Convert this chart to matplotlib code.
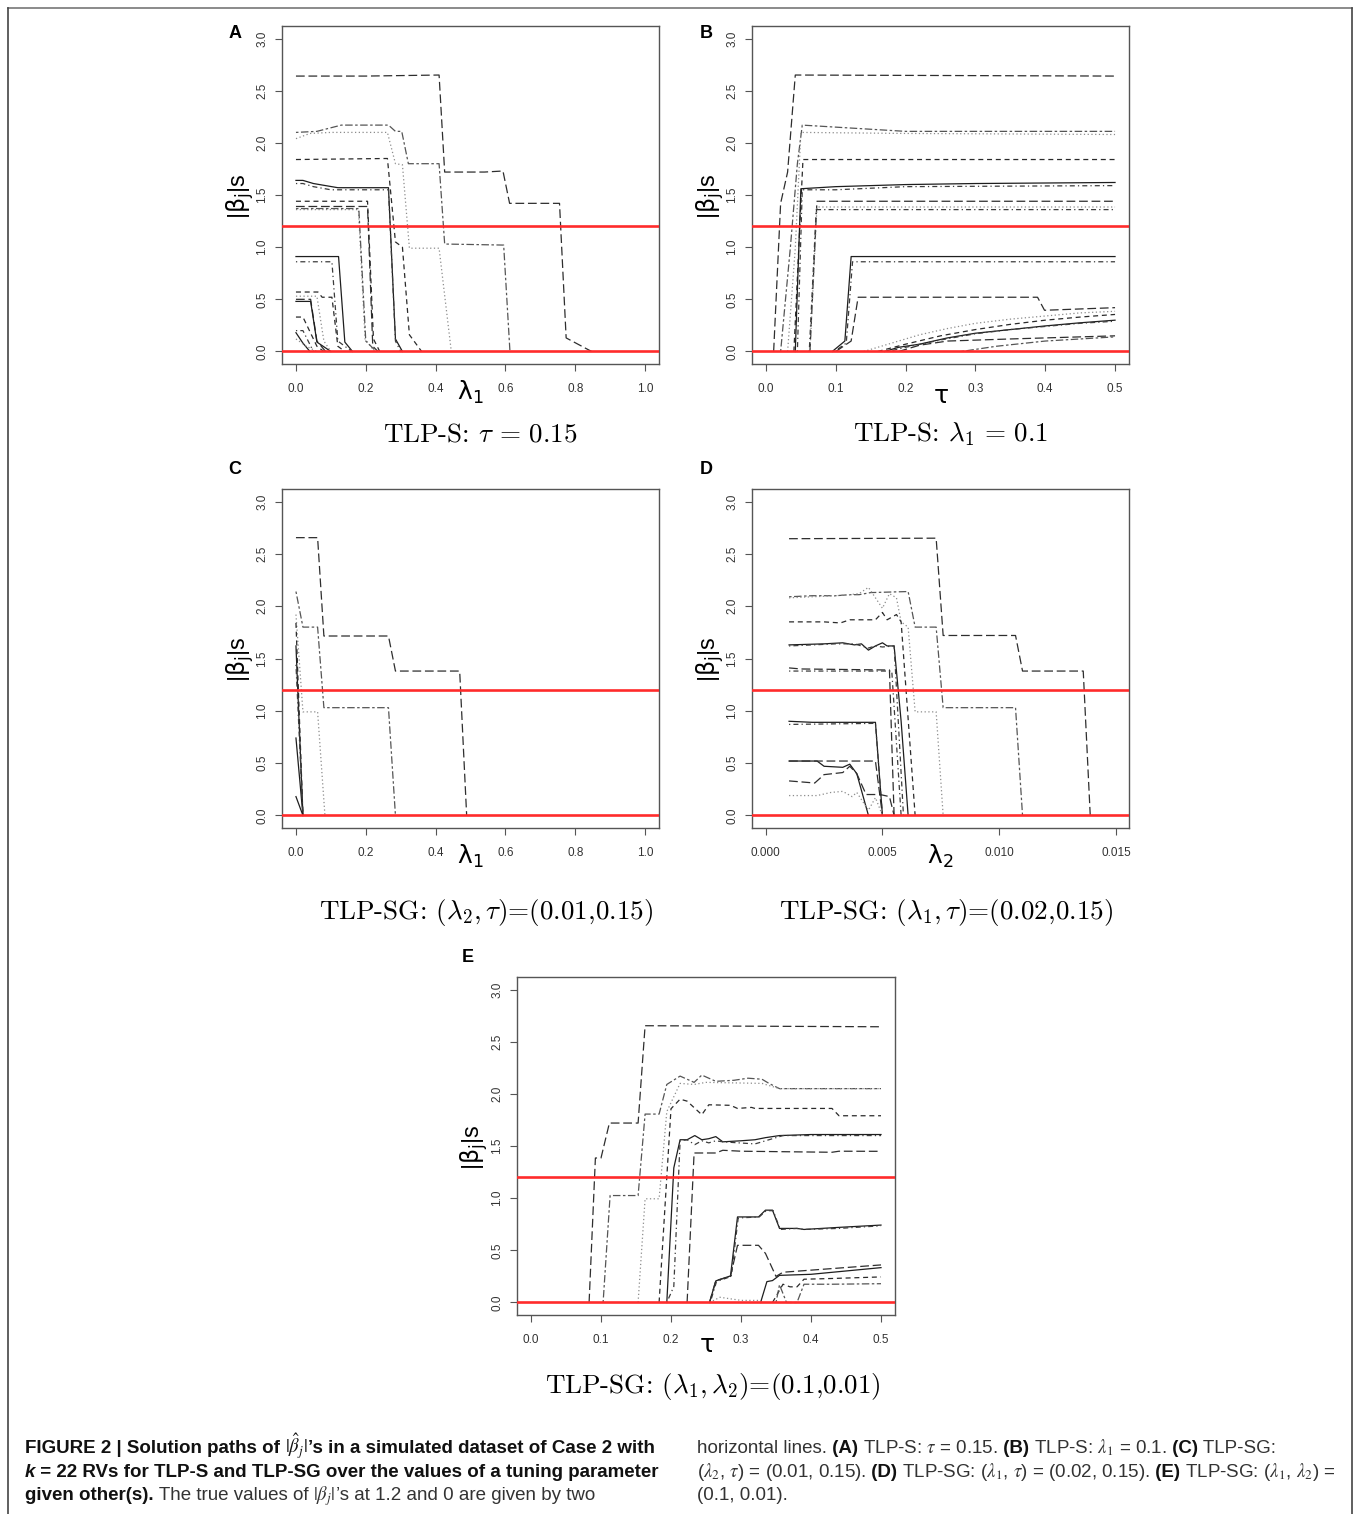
import matplotlib
matplotlib.use('Agg')
import matplotlib.pyplot as plt
from matplotlib import font_manager as fm
from matplotlib.lines import Line2D
from matplotlib.ticker import FixedLocator, FixedFormatter

W, H = 1355, 1514
fig = plt.figure(figsize=(W / 100, H / 100), dpi=100)


def fx(px):
    return px / W


def fy(py):
    return 1 - py / H


names = {f.name for f in fm.fontManager.ttflist}
SANS = 'Liberation Sans' if 'Liberation Sans' in names else 'DejaVu Sans'
NARROW = 'Liberation Sans Narrow' if 'Liberation Sans Narrow' in names else SANS

# ---------------------------------------------------------------- data
y_ticks = [0.0, 0.5, 1.0, 1.5, 2.0, 2.5, 3.0]
y_ticklabels = ['0.0', '0.5', '1.0', '1.5', '2.0', '2.5', '3.0']
true_values = [1.2, 0.0]

lam1_ticks = [0.0, 0.2, 0.4, 0.6, 0.8, 1.0]
lam1_ticklabels = ['0.0', '0.2', '0.4', '0.6', '0.8', '1.0']
tau_ticks = [0.0, 0.1, 0.2, 0.3, 0.4, 0.5]
tau_ticklabels = ['0.0', '0.1', '0.2', '0.3', '0.4', '0.5']
lam2_ticks = [0.0, 0.005, 0.010, 0.015]
lam2_ticklabels = ['0.000', '0.005', '0.010', '0.015']

# Panel A : TLP-S, tau = 0.15, paths over lambda1
a_x = [
    [0, 0.2, 0.41, 0.426, 0.54, 0.593, 0.612, 0.755, 0.774, 0.847],
    [0, 0.06, 0.13, 0.265, 0.285, 0.303, 0.322, 0.41, 0.426, 0.595, 0.613],
    [0, 0.04, 0.10, 0.262, 0.285, 0.305, 0.325, 0.41, 0.445],
    [0, 0.262, 0.285, 0.305, 0.325, 0.36],
    [0, 0.02, 0.05, 0.12, 0.265, 0.285, 0.305],
    [0, 0.02, 0.05, 0.10, 0.265, 0.285, 0.30],
    [0, 0.205, 0.222, 0.24],
    [0, 0.205, 0.22, 0.235],
    [0, 0.179, 0.198, 0.225],
    [0, 0.18, 0.20, 0.23],
    [0, 0.122, 0.14, 0.162],
    [0, 0.103, 0.12, 0.16],
    [0, 0.063, 0.075, 0.103, 0.12, 0.14],
    [0, 0.06, 0.08, 0.10],
    [0, 0.042, 0.06, 0.085],
    [0, 0.042, 0.06, 0.10],
    [0, 0.02, 0.06, 0.08],
    [0, 0.02, 0.05],
    [0, 0.02, 0.04],
    [0, 0.03, 0.06],
]
a_y = [
    [2.64, 2.64, 2.65, 1.72, 1.72, 1.73, 1.42, 1.42, 0.13, 0.0],
    [2.10, 2.11, 2.17, 2.17, 2.11, 2.11, 1.80, 1.80, 1.03, 1.02, 0.0],
    [2.04, 2.09, 2.10, 2.10, 1.80, 1.79, 0.99, 0.99, 0.0],
    [1.84, 1.85, 1.05, 1.00, 0.16, 0.0],
    [1.64, 1.64, 1.61, 1.57, 1.57, 0.12, 0.0],
    [1.61, 1.61, 1.58, 1.55, 1.55, 0.10, 0.0],
    [1.44, 1.44, 0.12, 0.0],
    [1.39, 1.39, 0.05, 0.0],
    [1.36, 1.36, 0.12, 0.0],
    [1.37, 1.37, 0.10, 0.0],
    [0.91, 0.91, 0.09, 0.0],
    [0.86, 0.86, 0.10, 0.0],
    [0.57, 0.57, 0.52, 0.52, 0.05, 0.0],
    [0.53, 0.53, 0.10, 0.0],
    [0.50, 0.50, 0.10, 0.0],
    [0.48, 0.48, 0.09, 0.0],
    [0.33, 0.33, 0.05, 0.0],
    [0.20, 0.20, 0.0],
    [0.18, 0.08, 0.0],
    [0.12, 0.05, 0.0],
]
a_styles = ['longdash', 'twodash', 'dotted', 'dashed', 'solid', 'dotdash',
            'dashed', 'longdash', 'dotted', 'twodash', 'solid', 'dotdash',
            'dashed', 'dotted', 'longdash', 'solid', 'dashed', 'dotdash',
            'solid', 'dotted']

# Panel B : TLP-S, lambda1 = 0.1, paths over tau
b_x = [
    [0.011, 0.021, 0.031, 0.042, 0.5],
    [0.021, 0.035, 0.045, 0.052, 0.2, 0.5],
    [0.031, 0.042, 0.05, 0.2, 0.5],
    [0.040, 0.053, 0.5],
    [0.042, 0.05, 0.1, 0.2, 0.3, 0.5],
    [0.045, 0.052, 0.1, 0.2, 0.5],
    [0.063, 0.073, 0.5],
    [0.063, 0.073, 0.5],
    [0.062, 0.072, 0.5],
    [0.095, 0.113, 0.122, 0.5],
    [0.098, 0.115, 0.124, 0.5],
    [0.100, 0.122, 0.132, 0.389, 0.399, 0.5],
    [0.14, 0.18, 0.22, 0.26, 0.3, 0.35, 0.4, 0.45, 0.5],
    [0.16, 0.2, 0.25, 0.3, 0.35, 0.4, 0.45, 0.5],
    [0.17, 0.19, 0.22, 0.26, 0.3, 0.35, 0.4, 0.45, 0.5],
    [0.175, 0.2, 0.25, 0.3, 0.35, 0.4, 0.45, 0.5],
    [0.19, 0.22, 0.26, 0.35, 0.5],
    [0.28, 0.33, 0.4, 0.5],
]
b_y = [
    [0.0, 1.42, 1.72, 2.65, 2.64],
    [0.0, 1.00, 1.80, 2.17, 2.11, 2.11],
    [0.0, 0.99, 2.10, 2.09, 2.08],
    [0.0, 1.84, 1.84],
    [0.0, 1.56, 1.58, 1.60, 1.61, 1.62],
    [0.0, 1.55, 1.55, 1.58, 1.59],
    [0.0, 1.44, 1.44],
    [0.0, 1.385, 1.385],
    [0.0, 1.36, 1.36],
    [0.0, 0.10, 0.91, 0.91],
    [0.0, 0.08, 0.86, 0.86],
    [0.0, 0.10, 0.52, 0.52, 0.395, 0.42],
    [0.0, 0.08, 0.16, 0.22, 0.27, 0.31, 0.34, 0.37, 0.385],
    [0.0, 0.07, 0.15, 0.21, 0.26, 0.30, 0.33, 0.355],
    [0.0, 0.04, 0.07, 0.13, 0.175, 0.21, 0.245, 0.275, 0.30],
    [0.0, 0.04, 0.11, 0.17, 0.21, 0.24, 0.27, 0.29],
    [0.0, 0.06, 0.10, 0.12, 0.15],
    [0.0, 0.05, 0.10, 0.14],
]
b_styles = ['longdash', 'twodash', 'dotted', 'dashed', 'solid', 'dotdash',
            'longdash', 'dotted', 'dotdash', 'solid', 'dotdash', 'longdash',
            'dotted', 'dashed', 'solid', 'dotdash', 'longdash', 'twodash']

# Panel C : TLP-SG, (lambda2, tau) = (0.01, 0.15), paths over lambda1
c_x = [
    [0, 0.062, 0.08, 0.265, 0.285, 0.469, 0.489],
    [0, 0.02, 0.062, 0.08, 0.265, 0.285],
    [0, 0.02, 0.062, 0.083],
    [0, 0.02],
    [0, 0.02],
    [0, 0.02],
    [0, 0.02],
    [0, 0.02],
]
c_y = [
    [2.655, 2.655, 1.715, 1.715, 1.38, 1.38, 0.0],
    [2.14, 1.80, 1.80, 1.03, 1.03, 0.0],
    [1.92, 0.99, 0.99, 0.0],
    [1.62, 0.0],
    [0.74, 0.0],
    [0.18, 0.0],
    [1.84, 0.0],
    [1.44, 0.0],
]
c_styles = ['longdash', 'twodash', 'dotted', 'solid', 'solid', 'solid',
            'dashed', 'dotdash']

# Panel D : TLP-SG, (lambda1, tau) = (0.02, 0.15), paths over lambda2
d_x = [
    [0.001, 0.0073, 0.0076, 0.0107, 0.011, 0.0136, 0.0139],
    [0.001, 0.002, 0.003, 0.0036, 0.004, 0.0045, 0.0061, 0.0064, 0.0073, 0.0076, 0.0107, 0.011],
    [0.001, 0.002, 0.003, 0.0036, 0.004, 0.0044, 0.005, 0.0053, 0.0056, 0.0058, 0.0061, 0.0064, 0.0073, 0.0076],
    [0.001, 0.0025, 0.0032, 0.0036, 0.0047, 0.005, 0.0052, 0.0056, 0.0058, 0.0064],
    [0.001, 0.0025, 0.0033, 0.0038, 0.0041, 0.0044, 0.0047, 0.005, 0.0052, 0.0055, 0.0058, 0.0061],
    [0.001, 0.003, 0.0038, 0.0044, 0.0047, 0.005, 0.0055, 0.0059],
    [0.001, 0.0015, 0.0053, 0.0055],
    [0.001, 0.0054, 0.0058],
    [0.001, 0.002, 0.0047, 0.005],
    [0.001, 0.0047, 0.005],
    [0.001, 0.0022, 0.0025, 0.0033, 0.0036, 0.0039, 0.0044],
    [0.001, 0.0035, 0.0047, 0.005],
    [0.001, 0.0021, 0.0025, 0.0033, 0.0036, 0.0039, 0.0043, 0.0049, 0.0053, 0.0055],
    [0.001, 0.0022, 0.0028, 0.0033, 0.0037, 0.0039, 0.0044, 0.0047, 0.005],
]
d_y = [
    [2.645, 2.65, 1.72, 1.72, 1.38, 1.38, 0.0],
    [2.09, 2.10, 2.10, 2.11, 2.11, 2.13, 2.14, 1.80, 1.80, 1.03, 1.03, 0.0],
    [2.08, 2.09, 2.10, 2.11, 2.12, 2.18, 1.98, 2.12, 2.08, 1.85, 1.80, 0.99, 0.99, 0.0],
    [1.85, 1.85, 1.84, 1.87, 1.87, 1.94, 1.87, 1.92, 1.85, 0.0],
    [1.63, 1.64, 1.65, 1.63, 1.64, 1.58, 1.62, 1.65, 1.62, 1.62, 0.90, 0.0],
    [1.62, 1.64, 1.64, 1.60, 1.62, 1.61, 1.62, 0.0],
    [1.41, 1.40, 1.39, 0.0],
    [1.38, 1.38, 0.0],
    [0.90, 0.89, 0.89, 0.0],
    [0.87, 0.88, 0.0],
    [0.52, 0.52, 0.47, 0.46, 0.49, 0.40, 0.0],
    [0.52, 0.52, 0.52, 0.0],
    [0.33, 0.31, 0.39, 0.41, 0.47, 0.40, 0.20, 0.20, 0.18, 0.0],
    [0.19, 0.19, 0.22, 0.23, 0.18, 0.22, 0.05, 0.17, 0.0],
]
d_styles = ['longdash', 'twodash', 'dotted', 'dashed', 'solid', 'dotdash',
            'longdash', 'dotdash', 'solid', 'dotdash', 'solid', 'longdash',
            'longdash', 'dotted']

# Panel E : TLP-SG, (lambda1, lambda2) = (0.1, 0.01), paths over tau
e_x = [
    [0.083, 0.092, 0.10, 0.112, 0.153, 0.163, 0.5],
    [0.103, 0.113, 0.153, 0.163, 0.183, 0.194, 0.213, 0.233, 0.244, 0.264, 0.29, 0.31, 0.33, 0.34, 0.355, 0.5],
    [0.153, 0.163, 0.183, 0.194, 0.213, 0.233, 0.25, 0.33, 0.355, 0.5],
    [0.183, 0.200, 0.213, 0.223, 0.244, 0.254, 0.285, 0.295, 0.315, 0.32, 0.43, 0.44, 0.5],
    [0.194, 0.204, 0.213, 0.223, 0.234, 0.244, 0.254, 0.264, 0.274, 0.30, 0.32, 0.335, 0.355, 0.4, 0.5],
    [0.194, 0.204, 0.213, 0.223, 0.234, 0.244, 0.254, 0.264, 0.274, 0.32, 0.345, 0.36, 0.5],
    [0.223, 0.233, 0.264, 0.274, 0.30, 0.43, 0.44, 0.5],
    [0.255, 0.264, 0.285, 0.295, 0.325, 0.335, 0.345, 0.355, 0.38, 0.39, 0.44, 0.5],
    [0.256, 0.265, 0.286, 0.296, 0.326, 0.336, 0.346, 0.356, 0.38, 0.39, 0.44, 0.5],
    [0.255, 0.264, 0.285, 0.295, 0.325, 0.335, 0.35, 0.36, 0.4, 0.5],
    [0.328, 0.337, 0.345, 0.355, 0.4, 0.5],
    [0.255, 0.27, 0.30, 0.325, 0.33],
    [0.345, 0.36, 0.37, 0.38, 0.39, 0.43, 0.5],
    [0.35, 0.355, 0.365, 0.38, 0.39, 0.43, 0.5],
]
e_y = [
    [0.0, 1.385, 1.385, 1.72, 1.72, 2.653, 2.643],
    [0.0, 1.025, 1.025, 1.806, 1.806, 2.09, 2.17, 2.11, 2.18, 2.12, 2.13, 2.15, 2.14, 2.10, 2.05, 2.05],
    [0.0, 0.994, 0.994, 1.83, 2.10, 2.09, 2.11, 2.10, 2.05, 2.05],
    [0.0, 1.857, 1.949, 1.93, 1.80, 1.895, 1.89, 1.86, 1.87, 1.86, 1.86, 1.79, 1.79],
    [0.0, 1.29, 1.56, 1.56, 1.60, 1.56, 1.57, 1.59, 1.54, 1.55, 1.56, 1.58, 1.60, 1.61, 1.61],
    [0.0, 0.153, 1.55, 1.56, 1.513, 1.55, 1.53, 1.55, 1.54, 1.52, 1.57, 1.60, 1.60],
    [0.0, 1.433, 1.433, 1.459, 1.45, 1.44, 1.45, 1.449],
    [0.0, 0.207, 0.255, 0.82, 0.82, 0.885, 0.885, 0.71, 0.71, 0.70, 0.72, 0.742],
    [0.0, 0.20, 0.25, 0.81, 0.82, 0.88, 0.88, 0.70, 0.71, 0.70, 0.71, 0.735],
    [0.0, 0.21, 0.25, 0.548, 0.548, 0.47, 0.25, 0.29, 0.31, 0.36],
    [0.0, 0.20, 0.21, 0.26, 0.27, 0.334],
    [0.0, 0.05, 0.02, 0.02, 0.0],
    [0.0, 0.175, 0.15, 0.15, 0.223, 0.23, 0.245],
    [0.0, 0.17, 0.0, 0.0, 0.175, 0.175, 0.18],
]
e_styles = ['longdash', 'twodash', 'dotted', 'dashed', 'solid', 'dotdash',
            'longdash', 'solid', 'dotdash', 'longdash', 'solid', 'dotted',
            'dashed', 'twodash']

# ---------------------------------------------------------------- styles
LS = {
    'solid': '-',
    'dashed': (0, (4, 3)),
    'dotted': (0, (1, 2)),
    'dotdash': (0, (1, 2.5, 4, 2.5)),
    'longdash': (0, (7, 3)),
    'twodash': (0, (2, 2, 6, 2)),
}
COL = {
    'solid': '#1e1e1e', 'dashed': '#2a2a2a', 'dotted': '#8c8c8c',
    'dotdash': '#3c3c3c', 'longdash': '#2e2e2e', 'twodash': '#555555',
}
RED = '#ff2b2b'
BOX = '#555555'


def panel(box, xlim, xticks, xticklabels, xs, ys, styles, letter, letter_pos,
          xlabel, xlabel_pos, ylabel_pos, subtitle, subtitle_pos):
    left, top, right, bottom = box
    ax = fig.add_axes([fx(left), fy(bottom), (right - left) / W, (bottom - top) / H])
    for x, y, s in zip(xs, ys, styles):
        ax.plot(x, y, linestyle=LS[s], color=COL[s], lw=0.9)
    for v in true_values:
        ax.axhline(v, color=RED, lw=1.9, zorder=5)
    ax.set_xlim(*xlim)
    ax.set_ylim(-0.12, 3.12)
    ax.xaxis.set_major_locator(FixedLocator(xticks))
    ax.xaxis.set_major_formatter(FixedFormatter(xticklabels))
    ax.yaxis.set_major_locator(FixedLocator(y_ticks))
    ax.yaxis.set_major_formatter(FixedFormatter(y_ticklabels))
    for sp in ax.spines.values():
        sp.set_color(BOX)
        sp.set_linewidth(1.0)
    ax.tick_params(axis='both', direction='out', length=5, width=0.8, color=BOX,
                   labelsize=8.5, labelcolor='#333333')
    ax.tick_params(axis='x', pad=9)
    ax.tick_params(axis='y', pad=5)
    for lab in ax.get_yticklabels():
        lab.set_rotation(90)
        lab.set_va('center')
        lab.set_family(SANS)
    for lab in ax.get_xticklabels():
        lab.set_family(SANS)

    fig.text(fx(letter_pos[0]), fy(letter_pos[1]), letter, fontsize=13,
             fontweight='bold', family=SANS, ha='center', va='center')
    fig.text(fx(ylabel_pos[0]), fy(ylabel_pos[1]), r'|$\mathrm{\beta_j}$|s', rotation=90,
             fontsize=17, family=SANS, math_fontfamily='dejavusans',
             ha='center', va='center')
    fig.text(fx(xlabel_pos[0]), fy(xlabel_pos[1]), xlabel, fontsize=18,
             math_fontfamily='dejavusans', ha='center', va='center')
    fig.text(fx(subtitle_pos[0]), fy(subtitle_pos[1]), subtitle, fontsize=19.5,
             family='cmr10', math_fontfamily='cm', ha='center', va='baseline')
    return ax


panel((282, 26, 659, 364), (-0.04, 1.04), lam1_ticks, lam1_ticklabels,
      a_x, a_y, a_styles, 'A', (235, 34), r'$\mathrm{\lambda_1}$', (470, 392), (240, 196),
      r'TLP-S: $\tau\,=\,0.15$', (480, 441))
panel((752, 26, 1129, 364), (-0.02, 0.52), tau_ticks, tau_ticklabels,
      b_x, b_y, b_styles, 'B', (706, 34), r'$\mathrm{\tau}$', (941, 396), (710, 196),
      r'TLP-S: $\lambda_1\,=\,0.1$', (951, 441))
panel((282, 489, 659, 828), (-0.04, 1.04), lam1_ticks, lam1_ticklabels,
      c_x, c_y, c_styles, 'C', (235, 470), r'$\mathrm{\lambda_1}$', (470, 856), (240, 659),
      r'TLP-SG: $(\lambda_2,\tau)$=(0.01,0.15)', (486, 919))
panel((752, 489, 1129, 828), (-0.000587, 0.01556), lam2_ticks, lam2_ticklabels,
      d_x, d_y, d_styles, 'D', (706, 470), r'$\mathrm{\lambda_2}$', (940, 856), (710, 659),
      r'TLP-SG: $(\lambda_1,\tau)$=(0.02,0.15)', (946, 919))
panel((517, 977, 895, 1315), (-0.02, 0.52), tau_ticks, tau_ticklabels,
      e_x, e_y, e_styles, 'E', (468, 958), r'$\mathrm{\tau}$', (707, 1345), (474, 1147),
      r'TLP-SG: $(\lambda_1,\lambda_2)$=(0.1,0.01)', (713, 1393))

# ---------------------------------------------------------------- frame
frame_col = '#444444'
fig.add_artist(Line2D([fx(8), fx(1352)], [fy(8), fy(8)], color='#777777', lw=1.2))
fig.add_artist(Line2D([fx(8), fx(8)], [fy(8), fy(1514)], color=frame_col, lw=1.2))
fig.add_artist(Line2D([fx(1352), fx(1352)], [fy(8), fy(1514)], color=frame_col, lw=1.2))

# ---------------------------------------------------------------- caption
renderer = fig.canvas.get_renderer()
B = {'fontweight': 'bold'}
R = {'fontweight': 'normal'}
BI = {'fontweight': 'bold', 'fontstyle': 'italic'}

left_lines = [
    [("FIGURE 2 | Solution paths of", B), (r" $|\hat{\beta}_j|$", B),
     ("\u2019s in a simulated dataset of Case 2 with", B)],
    [("k", BI), (" = 22 RVs for TLP-S and TLP-SG over the values of a tuning parameter", B)],
    [("given other(s).", B), (" The true values of", R), (r" $|\beta_j|$", R),
     ("\u2019s at 1.2 and 0 are given by two", R)],
]
right_lines = [
    [("horizontal lines.", R), (" (A)", B), (r" TLP-S: $\tau$ = 0.15.", R), (" (B)", B),
     (r" TLP-S: $\lambda_1$ = 0.1.", R), (" (C)", B), (" TLP-SG:", R)],
    [(r"($\lambda_2$, $\tau$) = (0.01, 0.15).", R), (" (D)", B),
     (r" TLP-SG: ($\lambda_1$, $\tau$) = (0.02, 0.15).", R), (" (E)", B),
     (r" TLP-SG: ($\lambda_1$, $\lambda_2$) =", R)],
    [("(0.1, 0.01).", R)],
]


def draw_line(x_px, y_px, segs, size, keep=True):
    x = x_px
    made = []
    for txt, kw in segs:
        col = '#111111' if kw.get('fontweight') == 'bold' else '#333333'
        t = fig.text(fx(x), fy(y_px), txt, fontsize=size, family=NARROW,
                     math_fontfamily='stix', ha='left', va='baseline', color=col, **kw)
        bb = t.get_window_extent(renderer=renderer)
        x += bb.width
        made.append(t)
    if not keep:
        for t in made:
            t.remove()
    return x - x_px


trial = 12.0
w = draw_line(25, 1453, left_lines[0], trial, keep=False)
cap_size = trial * 635.0 / w
cap_size = max(9.0, min(cap_size, 13.5))

baselines = [1453, 1477, 1500]
for yb, segs in zip(baselines, left_lines):
    draw_line(25, yb, segs, cap_size)
for yb, segs in zip(baselines, right_lines):
    draw_line(697, yb, segs, cap_size)

fig.savefig('out.png', dpi=100)
